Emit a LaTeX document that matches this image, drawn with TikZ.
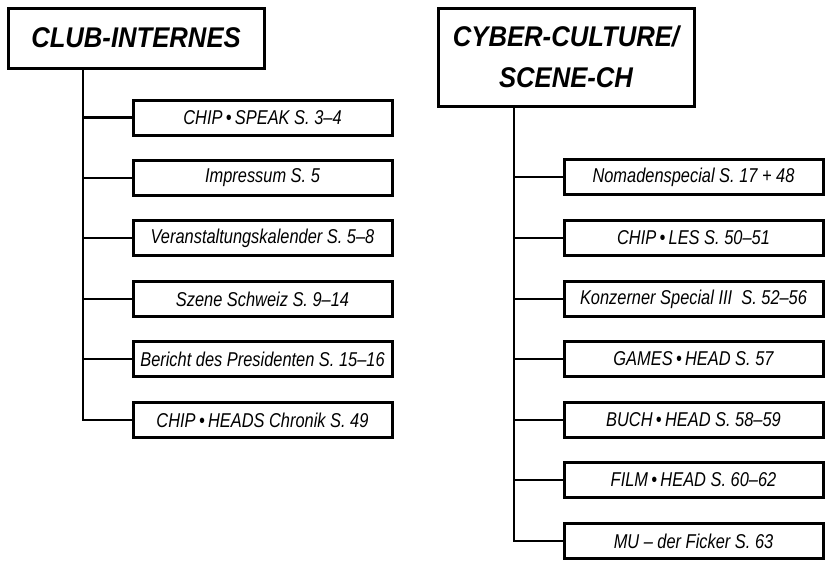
\documentclass[tikz,border=0pt]{standalone}
\usepackage{fontspec}
\newfontfamily\titlefont[FakeStretch=0.9]{Liberation Sans}
\newfontfamily\itemfont[FakeStretch=0.82]{Liberation Sans}
\begin{document}
\begin{tikzpicture}[x=1pt,y=-1pt,
  titlebox/.style={draw, line width=3pt, inner sep=0pt, align=center,
    font=\titlefont\bfseries\itshape\fontsize{28.5}{41}\selectfont},
  itembox/.style={draw, line width=3pt, inner sep=0pt, minimum width=259pt, minimum height=35pt,
    font=\itemfont\itshape\fontsize{20}{22}\selectfont},
  conn/.style={line width=2.8pt}]
\useasboundingbox (0,0) rectangle (832,565);
% titles
\node[titlebox, minimum width=256pt, minimum height=60pt] (lt) at (136,38) {CLUB-INTERNES};
\node[titlebox, minimum width=256pt, minimum height=98pt] (rt) at (566,57) {CYBER-CULTURE/\\SCENE-CH};
% left children
\node[itembox] (l1) at (262.5,117.5) {CHIP\,•\,SPEAK S. 3–4};
\node[itembox] (l2) at (262.5,178) {Impressum S. 5};
\node[itembox] (l3) at (262.5,238) {Veranstaltungskalender S. 5–8};
\node[itembox] (l4) at (262.5,299) {Szene Schweiz S. 9–14};
\node[itembox] (l5) at (262.5,359) {Bericht des Presidenten S. 15–16};
\node[itembox] (l6) at (262.5,420) {CHIP\,•\,HEADS Chronik S. 49};
% right children
\node[itembox] (r1) at (693.5,177) {Nomadenspecial S. 17 + 48};
\node[itembox] (r2) at (693.5,238) {CHIP\,•\,LES S. 50–51};
\node[itembox] (r3) at (693.5,299) {Konzerner Special III\ \ S. 52–56};
\node[itembox] (r4) at (693.5,359) {GAMES\,•\,HEAD S. 57};
\node[itembox] (r5) at (693.5,420) {BUCH\,•\,HEAD S. 58–59};
\node[itembox] (r6) at (693.5,480) {FILM\,•\,HEAD S. 60–62};
\node[itembox] (r7) at (693.5,541) {MU – der Ficker S. 63};
% trunks
\coordinate (lroot) at (lt.south -| 83,0);
\coordinate (rroot) at (rt.south -| 514,0);
\draw[conn] (lroot) |- (l6.west);
\foreach \n in {l1,l2,l3,l4,l5} \draw[conn] (lroot |- \n.west) -- (\n.west);
\draw[conn] (rroot) |- (r7.west);
\foreach \n in {r1,r2,r3,r4,r5,r6} \draw[conn] (rroot |- \n.west) -- (\n.west);
\end{tikzpicture}
\end{document}
